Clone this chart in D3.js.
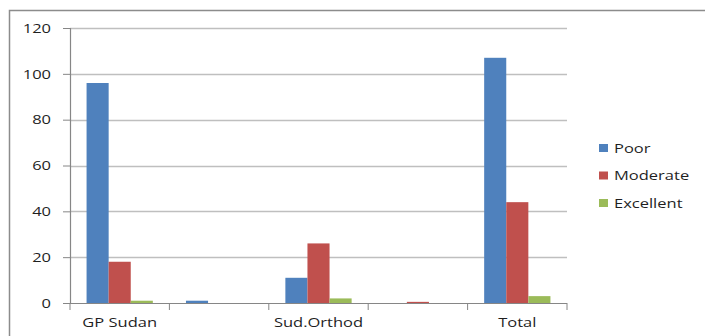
<!DOCTYPE html>
<html>
<head>
<meta charset="utf-8">
<script src="https://cdn.jsdelivr.net/npm/d3@7/dist/d3.min.js"></script>
<style>
  html, body { margin: 0; padding: 0; background: #fff; }
  svg { display: block; font-family: "Open Sans", sans-serif; }
</style>
</head>
<body>
<svg id="chart" width="705" height="336"></svg>
<script>
// Category labels (two unlabelled slots between the named groups)
const categories = ["GP Sudan", "", "Sud.Orthod", "", "Total"];
const seriesNames = ["Poor", "Moderate", "Excellent"];
const poor = [96, 1, 11, 0, 107];
const moderate = [18, 0, 26, 0.5, 44];
const excellent = [1, 0, 2, 0, 3];
const yTicks = [0, 20, 40, 60, 80, 100, 120];
const colors = ["#4F81BD", "#C0504D", "#9BBB59"];

const seriesValues = [poor, moderate, excellent];

const FONT = 13;
const STRETCH = 1.27;   // wide lettering
const TEXT_COLOR = "#1f1f1f";

const svg = d3.select("#chart");
const margin = { left: 70, right: 138, top: 28, bottom: 33 };
const W = 705, H = 336;
const plotW = W - margin.left - margin.right;
const plotH = H - margin.top - margin.bottom;

// Place a text node at (x, y) with horizontal stretch around its anchor
function placeText(sel, x, y) {
  sel.attr("x", 0).attr("y", 0)
    .attr("transform", (d, i, n) => {
      const px = typeof x === "function" ? x(d, i, n) : x;
      const py = typeof y === "function" ? y(d, i, n) : y;
      return `translate(${px},${py}) scale(${STRETCH},1)`;
    });
}

// Outer chart frame
svg.append("rect")
  .attr("x", 9.5).attr("y", 10.5)
  .attr("width", 720).attr("height", 360)
  .attr("fill", "none").attr("stroke", "#8c8c8c").attr("stroke-width", 1.5);

const g = svg.append("g").attr("transform", `translate(${margin.left},${margin.top})`);

const x0 = d3.scaleBand().domain(d3.range(categories.length)).range([0, plotW]).paddingInner(0).paddingOuter(0);
// 150% gap width: bars take 3 / 4.5 of each category slot
const x1 = d3.scaleBand().domain(d3.range(seriesNames.length))
  .range([0, x0.bandwidth()]).paddingInner(0).paddingOuter(0.75);
const y = d3.scaleLinear().domain([0, 120]).range([plotH, 0]);

// Horizontal gridlines
g.append("g").selectAll("line").data(yTicks.filter(t => t > 0)).join("line")
  .attr("x1", 0).attr("x2", plotW)
  .attr("y1", d => Math.round(y(d)) + 0.5).attr("y2", d => Math.round(y(d)) + 0.5)
  .attr("stroke", "#bfbfbf").attr("stroke-width", 1.3);

// Bars
const groups = g.append("g").selectAll("g").data(categories.map((c, i) => i)).join("g")
  .attr("transform", i => `translate(${x0(i)},0)`);
groups.selectAll("rect")
  .data(i => seriesValues.map((vals, s) => ({ s, v: vals[i] })))
  .join("rect")
  .attr("x", d => x1(d.s))
  .attr("width", x1.bandwidth())
  .attr("y", d => y(d.v))
  .attr("height", d => y(0) - y(d.v))
  .attr("fill", d => colors[d.s]);

// Y axis
const yAxis = g.append("g")
  .call(d3.axisLeft(y).tickValues(yTicks).tickSize(7).tickPadding(12).tickFormat(d3.format("d")));
yAxis.select(".domain").attr("stroke", "#868686").attr("stroke-width", 1.2);
yAxis.selectAll(".tick line").attr("stroke", "#868686");
yAxis.selectAll("text")
  .attr("font-size", FONT).attr("fill", TEXT_COLOR).attr("font-family", "'Open Sans', sans-serif")
  .call(placeText, -19, 0);

// X axis with tick marks at category boundaries
const xAxisG = g.append("g").attr("transform", `translate(0,${plotH})`);
xAxisG.append("line").attr("x1", 0).attr("x2", plotW).attr("y1", 0.5).attr("y2", 0.5)
  .attr("stroke", "#868686").attr("stroke-width", 1.2);
const boundaries = d3.range(categories.length + 1).map(i => i * x0.step());
xAxisG.selectAll(".bt").data(boundaries).join("line").attr("class", "bt")
  .attr("x1", d => d).attr("x2", d => d).attr("y1", 0).attr("y2", 7)
  .attr("stroke", "#868686");
xAxisG.selectAll(".cl").data(categories.map((c, i) => ({ c, i }))).join("text").attr("class", "cl")
  .attr("text-anchor", "middle")
  .attr("font-size", FONT).attr("fill", TEXT_COLOR)
  .text(d => d.c)
  .call(placeText, d => x0(d.i) + x0.bandwidth() / 2, 24);

// Legend
const legend = svg.append("g").attr("transform", "translate(599,144)");
const items = legend.selectAll("g").data(seriesNames).join("g")
  .attr("transform", (d, i) => `translate(0,${i * 27.5})`);
items.append("rect").attr("width", 9).attr("height", 8).attr("fill", (d, i) => colors[i]);
items.append("text").attr("dy", "0.35em")
  .attr("font-size", FONT).attr("fill", TEXT_COLOR).text(d => d)
  .call(placeText, 15, 4);
</script>
</body>
</html>
